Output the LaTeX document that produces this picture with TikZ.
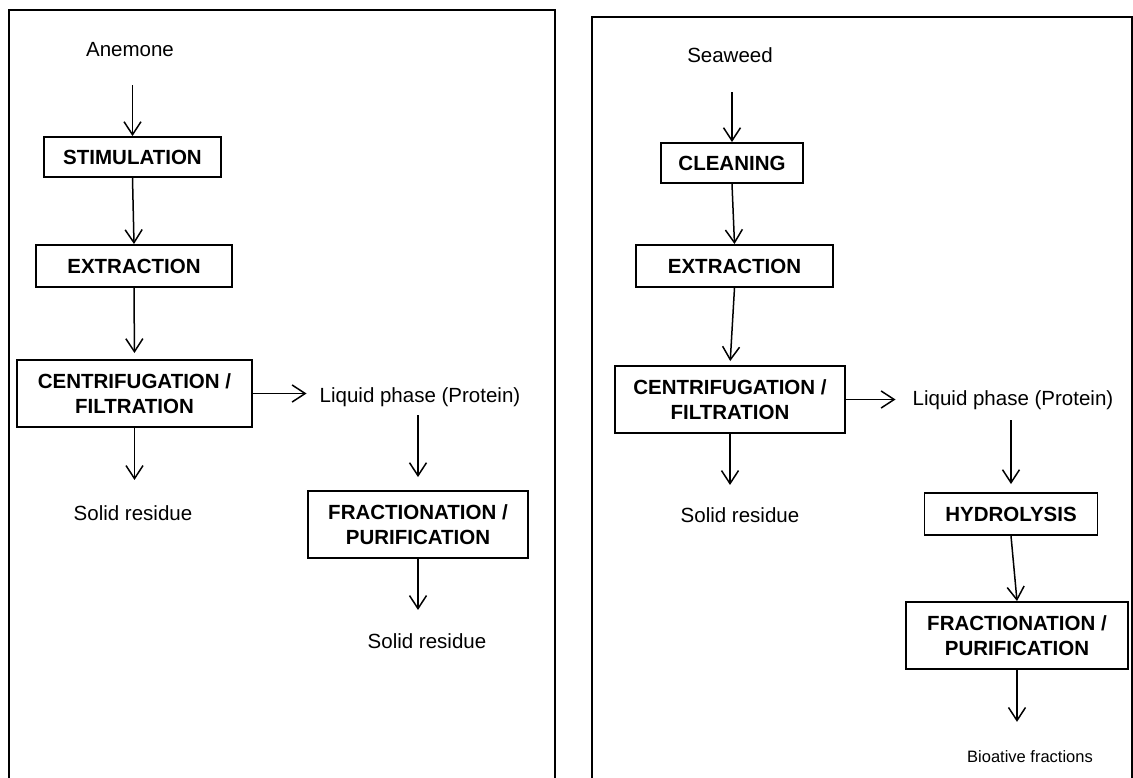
\documentclass[tikz,border=0pt]{standalone}
\usepackage{fontspec}
\setmainfont{Liberation Sans}
\usetikzlibrary{arrows.meta}

\tikzset{
  stepbox/.style={draw, line width=1.9pt, align=center, inner sep=0pt,
    font=\bfseries\fontsize{20.5}{25}\selectfont},
  lbl/.style={inner sep=0pt, anchor=base, font=\fontsize{20.5}{24}\selectfont},
  arr/.style={-{Straight Barb[length=13pt,width=17pt]}, line width=1.5pt},
  panel/.style={line width=2.5pt}
}

\begin{document}
\begin{tikzpicture}[x=1pt,y=-1pt]
\useasboundingbox (0,0) rectangle (1133,778);

% panels
\draw[panel] (9,790) -- (9,10) -- (555,10) -- (555,790);
\draw[panel] (592,790) -- (592,17) -- (1132,17) -- (1132,790);

% anemone
\node[lbl] (anemone) at (130,56.7) {Anemone};
\node[stepbox, minimum width=177pt, minimum height=40pt] (stim) at (132.5,157) {STIMULATION};
\node[stepbox, minimum width=196pt, minimum height=42pt] (extr1) at (134,266) {EXTRACTION};
\node[stepbox, minimum width=235pt, minimum height=67pt] (cent1) at (134.5,393.5) {CENTRIFUGATION /\\FILTRATION};
\node[lbl] (liq1) at (420,402) {Liquid phase (Protein)};
\node[lbl] (solid1) at (133,520) {Solid residue};
\node[stepbox, minimum width=220pt, minimum height=67pt] (frac1) at (418,524.5) {FRACTIONATION /\\PURIFICATION};
\node[lbl] (solid2) at (427,648) {Solid residue};

\draw[arr, shorten <=28pt] (anemone.south -| stim.north) -- (stim.north);
\draw[arr] (stim.south) -- (extr1.north);
\draw[arr, shorten >=6pt] (extr1.south) -- (cent1.north);
\draw[arr, shorten >=13pt] (cent1.east) -- (cent1.east -| liq1.west);
\draw[arr, shorten <=9pt, shorten >=13pt] (liq1.south -| frac1.north) -- (frac1.north);
\draw[arr, shorten >=25pt] (cent1.south) -- (cent1.south |- solid1.north);
\draw[arr, shorten >=23pt] (frac1.south) -- (frac1.south |- solid2.north);

% seaweed
\node[lbl] (seaweed) at (730,63) {Seaweed};
\node[stepbox, minimum width=142pt, minimum height=40pt] (clean) at (732,163) {CLEANING};
\node[stepbox, minimum width=197pt, minimum height=42pt] (extr2) at (734.5,266) {EXTRACTION};
\node[stepbox, minimum width=230pt, minimum height=67pt] (cent2) at (730,399.5) {CENTRIFUGATION /\\FILTRATION};
\node[lbl] (liq2) at (1013,405) {Liquid phase (Protein)};
\node[lbl] (solid3) at (740,522) {Solid residue};
\node[stepbox, minimum width=173pt, minimum height=42pt] (hydro) at (1011,514) {HYDROLYSIS};
\node[stepbox, minimum width=222pt, minimum height=67pt] (frac2) at (1017,635.5) {FRACTIONATION /\\PURIFICATION};
\node[lbl, font=\fontsize{16.5}{20}\selectfont] (bioact) at (1030,762) {Bioative fractions};

\draw[arr, shorten <=29pt] (seaweed.south -| clean.north) -- (clean.north);
\draw[arr] (clean.south) -- (extr2.north);
\draw[arr, shorten >=4pt] (extr2.south) -- (cent2.north);
\draw[arr, shorten >=17pt] (cent2.east) -- (cent2.east -| liq2.west);
\draw[arr, shorten <=11pt, shorten >=8pt] (liq2.south -| hydro.north) -- (hydro.north);
\draw[arr, shorten >=22pt] (cent2.south) -- (cent2.south |- solid3.north);
\draw[arr] (hydro.south) -- (frac2.north);
\draw[arr, shorten >=28pt] (frac2.south) -- (frac2.south |- bioact.north);
\end{tikzpicture}
\end{document}
